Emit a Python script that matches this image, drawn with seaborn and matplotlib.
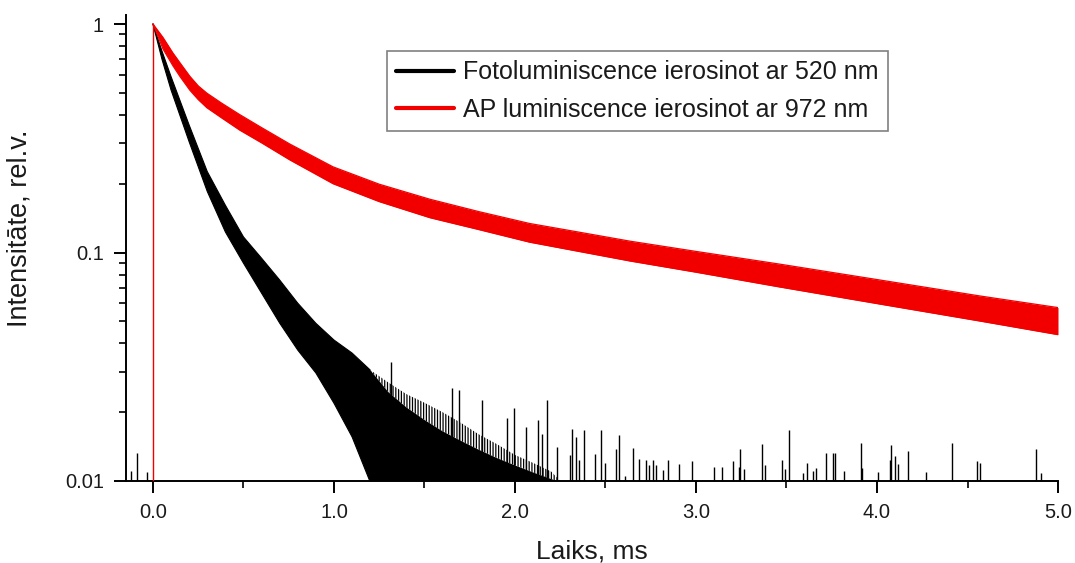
import numpy as np
import pandas as pd
import matplotlib
matplotlib.use("Agg")
import matplotlib.pyplot as plt
import seaborn as sns
from matplotlib.ticker import FixedLocator, FixedFormatter, MultipleLocator, FormatStrFormatter, NullFormatter
from matplotlib.lines import Line2D

# ---------------- data ----------------
series_names = ["Fotoluminiscence ierosinot ar 520 nm", "AP luminiscence ierosinot ar 972 nm"]

# black curve: time (ms), upper / lower edge of the noisy band (rel. units)
black_t     = [0.0, 0.05, 0.10, 0.20, 0.30, 0.40, 0.50, 0.60, 0.70, 0.80, 0.90, 1.00, 1.10, 1.20]
black_upper = [1.0, 0.76, 0.588, 0.361, 0.226, 0.161, 0.117, 0.0944, 0.0758, 0.060, 0.049, 0.0414,
               0.0363, 0.0306]
black_lower = [1.0, 0.70, 0.514, 0.305, 0.185, 0.123, 0.0898, 0.0664, 0.0491, 0.0374, 0.0297, 0.0219,
               0.0156, 0.0099]

# black tail near the noise floor: solid core top and top of the spike forest
tail_t     = [1.20, 1.30, 1.40, 1.50, 1.60, 1.70, 1.80, 1.90, 2.00, 2.10, 2.20, 2.25]
tail_core  = [0.0306, 0.0245, 0.021, 0.0185, 0.0165, 0.015, 0.0137, 0.0126, 0.0117, 0.0109, 0.0102, 0.0099]
tail_upper = [0.0306, 0.027, 0.024, 0.022, 0.020, 0.018, 0.016, 0.0145, 0.013, 0.012, 0.011, 0.010]
floor_v = 0.001   # signal baseline (below the visible axis range)

# isolated spikes of the black curve (time, peak value)
spike_t = [-0.122, -0.087, -0.035, 1.315, 1.65, 1.693, 1.82, 1.954, 1.996, 2.059, 2.125, 2.147,
           2.179, 2.234, 2.304, 2.317, 2.337, 2.354, 2.381, 2.442, 2.475, 2.497, 2.558, 2.577, 2.608,
           2.650, 2.687, 2.724, 2.740, 2.764, 2.779, 2.816, 2.847, 2.906, 2.976,
           3.101, 3.146, 3.203, 3.236, 3.243, 3.263, 3.365, 3.381, 3.477, 3.492, 3.512, 3.593,
           3.613, 3.645, 3.663, 3.718, 3.757, 3.770, 3.818, 3.912, 3.919, 4.007, 4.070, 4.077,
           4.098, 4.114, 4.169, 4.271, 4.413, 4.554, 4.569, 4.877, 4.906]
spike_v = [0.0111, 0.01325, 0.0109, 0.0333, 0.0255, 0.025, 0.0226, 0.0188, 0.0208, 0.0173, 0.0185, 0.016,
           0.0226, 0.01413, 0.013, 0.01683, 0.01553, 0.01236, 0.01672, 0.01313, 0.01672, 0.01195, 0.01376,
           0.0159, 0.0105, 0.014, 0.01248, 0.01236, 0.01175, 0.01236, 0.0117, 0.0112, 0.01236, 0.0119,
           0.01227, 0.01155, 0.01155, 0.01227, 0.01155, 0.01376, 0.01132, 0.01452, 0.01172, 0.01236,
           0.01132, 0.01672, 0.01087, 0.01195, 0.0111, 0.01143, 0.01322, 0.01322, 0.0133, 0.0111,
           0.01466, 0.01143, 0.01091, 0.01236, 0.01433, 0.01286, 0.01183, 0.01349, 0.01091, 0.01466,
           0.01227, 0.01202, 0.0138, 0.0108]

# red curve: time (ms), upper / lower edge of the noisy band
red_t     = [0.0, 0.055, 0.11, 0.15, 0.204, 0.25, 0.298, 0.38, 0.48, 0.60, 0.757, 0.995, 1.25, 1.53,
             1.80, 2.08, 2.35, 2.635, 3.0, 3.46, 4.02, 4.57, 5.0]
red_upper = [1.0, 0.874, 0.747, 0.675, 0.590, 0.536, 0.498, 0.450, 0.401, 0.352, 0.298, 0.237, 0.199,
             0.171, 0.151, 0.134, 0.1229, 0.1121, 0.1011, 0.0890, 0.0757, 0.0645, 0.0574]
red_lower = [1.0, 0.779, 0.657, 0.588, 0.513, 0.467, 0.430, 0.388, 0.343, 0.302, 0.254, 0.200, 0.167,
             0.142, 0.126, 0.111, 0.1012, 0.0918, 0.0820, 0.0707, 0.0594, 0.0501, 0.0437]
# red trace before the pulse (below the axis) and at pulse onset
red_onset_t = [0.0, 0.0]
red_onset_v = [0.001, 1.0]

x_ticks = [0.0, 1.0, 2.0, 3.0, 4.0, 5.0]
y_ticks = [0.01, 0.1, 1.0]
y_tick_labels = ["0.01", "0.1", "1"]

BLACK = "#000000"
RED = "#f20000"

# ---------------- style ----------------
sns.set_theme(style="ticks")
plt.rcParams["font.family"] = ["Liberation Sans", "DejaVu Sans"]
plt.rcParams["axes.linewidth"] = 1.4
plt.rcParams["hatch.linewidth"] = 0.9

fig = plt.figure(figsize=(10.75, 5.63), dpi=100)
ax = fig.add_axes([0.11721, 0.14565, 0.86698, 0.82771])

# combined solid region of the black trace (band, then dense core near the floor)
solid_t = black_t + tail_t[1:]
solid_lo = black_lower + [floor_v] * (len(tail_t) - 1)
solid_up = black_upper + tail_core[1:]

# long-format tables for seaborn
edges = pd.concat([
    pd.DataFrame({"t": black_t, "v": black_upper, "edge": "b_up"}),
    pd.DataFrame({"t": black_t, "v": black_lower, "edge": "b_lo"}),
])
red_edges = pd.concat([
    pd.DataFrame({"t": red_t, "v": red_upper, "edge": "r_up"}),
    pd.DataFrame({"t": red_t, "v": red_lower, "edge": "r_lo"}),
])

# black series
ax.fill_between(solid_t, solid_lo, solid_up, color=BLACK, lw=0, zorder=2)
ax.fill_between(tail_t, tail_core, tail_upper, facecolor="none", edgecolor=BLACK, hatch="||||||",
                lw=0, zorder=2)
sns.lineplot(data=edges, x="t", y="v", units="edge", estimator=None,
             color=BLACK, lw=0.8, ax=ax, legend=False, zorder=2)
ax.vlines(spike_t, floor_v, spike_v, color=BLACK, lw=1.0, zorder=2)

# red series
ax.plot(red_onset_t, red_onset_v, color=RED, lw=1.0, zorder=3)
ax.fill_between(red_t, red_lower, red_upper, color=RED, lw=0, zorder=3)
sns.lineplot(data=red_edges, x="t", y="v", units="edge", estimator=None, color=RED,
             lw=0.9, ax=ax, legend=False, zorder=3)

# ---------------- axes ----------------
ax.set_yscale("log")
ax.set_xlim(-0.149, 5.0)
ax.set_ylim(0.01, 1.095)

ax.xaxis.set_major_locator(FixedLocator(x_ticks))
ax.xaxis.set_major_formatter(FormatStrFormatter("%.1f"))
ax.xaxis.set_minor_locator(MultipleLocator(0.5))
ax.yaxis.set_major_locator(FixedLocator(y_ticks))
ax.yaxis.set_major_formatter(FixedFormatter(y_tick_labels))
ax.yaxis.set_minor_locator(FixedLocator([m * d for d in (0.01, 0.1) for m in range(2, 10)]))
ax.yaxis.set_minor_formatter(NullFormatter())

ax.tick_params(which="major", direction="out", length=8.5, width=1.4, labelsize=14.5, pad=7.5,
               colors="black", labelcolor="#1a1a1a")
ax.tick_params(which="minor", direction="out", length=5, width=1.2, colors="black")

for side in ("top", "right"):
    ax.spines[side].set_visible(False)
for side in ("left", "bottom"):
    ax.spines[side].set_color("black")

ax.set_xlabel("Laiks, ms", fontsize=19, labelpad=12.5, color="#1a1a1a")
ax.set_ylabel("Intensitāte, rel.v.", fontsize=19.5, color="#1a1a1a")
ax.yaxis.set_label_coords(-0.100, 0.543)
ax.grid(False)

handles = [Line2D([], [], color=BLACK, lw=3), Line2D([], [], color=RED, lw=3)]
leg = ax.legend(handles, series_names, loc="upper left", bbox_to_anchor=(0.28, 0.923),
                borderaxespad=0, fontsize=18, frameon=True, fancybox=False, framealpha=1,
                edgecolor="#808080", handlelength=2.3, handletextpad=0.35, borderpad=0.38,
                labelspacing=0.54)
leg.get_frame().set_linewidth(1.2)
for txt in leg.get_texts():
    txt.set_color("#1a1a1a")

fig.savefig("out.png", dpi=100)
